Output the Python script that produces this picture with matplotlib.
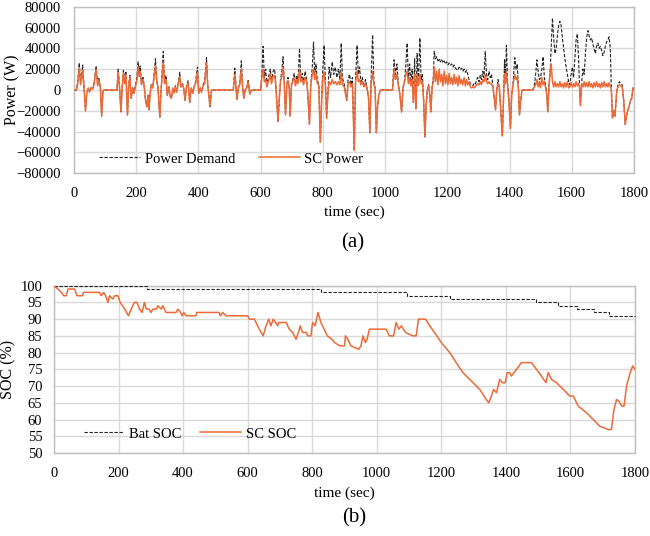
import numpy as np
import matplotlib
matplotlib.use('Agg')
import matplotlib.pyplot as plt

plt.rcParams['font.family'] = ['Liberation Serif', 'DejaVu Serif']

# ---- data (a): power, W ----
time_s = [0, 8, 12, 17, 21, 25, 28, 32, 37, 41, 46, 50, 55, 60, 65, 71, 76, 80, 85, 89, 93, 96,
          138, 142, 146, 151, 155, 159, 163, 167, 172, 176, 180, 184, 189, 193, 198, 203, 206, 210,
          213, 217, 222, 226, 230, 234, 238, 241, 245, 249, 253, 257, 262, 266, 270, 276, 280, 283,
          287, 291, 296, 300, 305, 309, 313, 318, 322, 326, 330, 335, 340, 344, 349, 353, 357, 362,
          367, 372, 377, 382, 386, 391, 397, 401, 406, 410, 415, 420, 426, 430, 434, 437, 442,
          512, 517, 521, 524, 528, 533, 538, 542, 546, 550, 555, 560, 565, 570,
          600, 604, 608, 612, 616, 620, 625, 631, 635, 640, 645, 649, 652, 656, 660, 664, 668, 672,
          676, 680, 684, 688, 692, 695, 699, 703, 708, 712, 716, 720, 725, 729, 734, 738, 743, 748,
          752, 757, 761, 766, 770, 774, 778, 782, 787, 792, 796, 800, 804, 808, 812, 816, 820, 825,
          830, 835, 840, 845, 850, 855, 859, 863, 869, 873, 877, 881, 886, 890, 895, 901, 905, 910,
          914, 918, 922, 927, 932, 937, 942, 947, 951, 955, 960, 964, 968, 972, 976, 980, 985,
          1024, 1029, 1033, 1038, 1043, 1048, 1053, 1058, 1063, 1067, 1071, 1075, 1079, 1083, 1087,
          1091, 1095, 1099, 1103, 1107, 1112, 1116, 1120, 1124, 1128, 1132, 1136, 1140, 1144, 1147,
          1151, 1155, 1158, 1162, 1166, 1170, 1174, 1178, 1182, 1186, 1190, 1194, 1198, 1202, 1206,
          1210, 1214, 1218, 1222, 1226, 1230, 1234, 1238, 1242, 1246, 1250, 1254, 1258, 1262, 1266,
          1270, 1274, 1278, 1282, 1286, 1290, 1294, 1298, 1302, 1306, 1310, 1314, 1318, 1322, 1326,
          1330, 1334, 1338, 1342, 1346, 1350, 1355, 1359, 1363, 1367, 1371, 1377, 1381, 1384, 1387,
          1390, 1394, 1398, 1403, 1407, 1411, 1417, 1421, 1425, 1429, 1432, 1436, 1440,
          1475, 1480, 1484, 1488, 1492, 1496, 1500, 1504, 1508, 1512, 1516, 1520, 1523, 1527, 1531,
          1534, 1538, 1542, 1546, 1550, 1554, 1558, 1562, 1566, 1570, 1574, 1578, 1582, 1586, 1590,
          1594, 1598, 1602, 1606, 1610, 1614, 1618, 1622, 1625, 1628, 1632, 1636, 1640, 1644, 1648,
          1652, 1656, 1660, 1664, 1668, 1672, 1676, 1680, 1684, 1688, 1692, 1696, 1700, 1704, 1708,
          1712, 1716, 1720, 1724, 1727, 1731, 1735, 1739, 1745, 1749, 1753, 1757, 1762, 1767, 1772,
          1776, 1780, 1785, 1789, 1793, 1797, 1800]

demand_w = [0, 0, 8000, 26000, 8000, 15000, 24000, 5000, -20000, -3000, 2000, -2000, 3000, 1000, 8000, 23000, 6000, 12000, 2000, -25000, -2000, 0,
            0, 20000, 5000, -21000, 3000, 19000, 8000, 18000, -24000, 5000, 14000, -8000, 2000, -3000, 5000, 14000, 27000, 18000,
            23000, 6000, 12000, 3000, -10000, -16000, -5000, -19000, -3000, 6000, 2000, 13000, 30000, 10000, 3000, -26000, 0, 15000,
            37000, 8000, 14000, -5000, 3000, -6000, -8000, 2000, -3000, 4000, -2000, 6000, 17000, 3000, 6000, 1000, -10000, 4000,
            9000, -12000, 2000, -3000, 3000, 8000, 22000, -3000, 2000, -2000, 5000, 8000, 31000, 5000, -6000, -16000, 0,
            0, 21000, 2000, -9000, 2000, 6000, 28000, 3000, -8000, 0, 2000, 10000, -4000, 0,
            0, 15000, 42000, 12000, 20000, 5000, 12000, 20000, 8000, 18000, 20000, 5000, -12000, -30000, -8000, 10000, 18000, 32000,
            8000, -24000, 5000, 12000, 2000, -25000, 5000, 10000, 16000, 5000, 14000, 8000, 40000, 10000, 16000, 6000, 18000, 10000,
            -5000, -33000, 5000, 22000, 46000, 15000, 25000, 10000, 5000, -50000, -10000, 20000, 43000, 10000, -27000, -5000, 22000, 12000,
            27000, 15000, 22000, 12000, 20000, 10000, 45000, 12000, 5000, -4000, -10000, 10000, 15000, 5000, 12000, -58000, 10000, 43000,
            15000, 22000, 8000, 12000, 3000, 10000, 2000, -8000, -41000, 10000, 53000, 8000, 2000, -41000, -15000, -5000, 0,
            0, 29000, 15000, 25000, 5000, -5000, -21000, 3000, 10000, 25000, 45000, 10000, 25000, 5000, 20000,
            -12000, 30000, -18000, 35000, 5000, 50000, 10000, 15000, -10000, -45000, -15000, 0, 5000, -5000, -21000,
            2000, 12000, 37000, 30000, 32000, 28000, 30000, 27000, 29000, 26000, 28000, 25000, 27000, 24000, 26000,
            24000, 25000, 22000, 24000, 21000, 20000, 19000, 22000, 20000, 21000, 18000, 20000, 17000, 19000, 15000,
            10000, 6000, 5000, 4000, 6000, 5000, 10000, 12000, 8000, 14000, 10000, 18000, 12000, 37000, 15000,
            10000, 18000, 12000, 15000, 5000, -5000, -19000, 0, 10000, 3000, -15000, -44000, -5000, 29000, 10000,
            43000, 5000, -10000, -37000, -5000, 5000, 31000, 20000, 25000, 0, -24000, -10000, 0,
            0, 5000, 15000, 29000, 18000, 10000, 12000, 20000, 32000, 12000, 5000, -5000, -21000, 5000, 20000,
            40000, 69000, 50000, 35000, 40000, 52000, 62000, 66000, 62000, 50000, 40000, 30000, 22000, 15000, 8000,
            5000, 15000, 22000, 12000, 30000, 48000, 54000, 30000, 5000, -15000, 8000, 20000, 15000, 35000, 50000,
            57000, 52000, 48000, 50000, 44000, 40000, 35000, 42000, 45000, 40000, 42000, 38000, 33000, 36000, 42000,
            46000, 48000, 51000, 40000, 5000, -27000, -20000, -25000, 0, 5000, 8000, 6000, 5000, -10000, -33000,
            -25000, -20000, -15000, -10000, -8000, 2000, 0]

sc_w = [0, 0, 6000, 21000, 5000, 12000, 19000, 3000, -20000, -3000, 2000, -2000, 2000, 1000, 6000, 20000, 4000, 10000, 2000, -25000, -2000, 0,
        0, 17000, 4000, -21000, 3000, 16000, 6000, 15000, -24000, 4000, 12000, -8000, 2000, -3000, 4000, 10000, 22000, 13000,
        18000, 5000, 10000, 3000, -10000, -16000, -5000, -19000, -3000, 5000, 2000, 11000, 23000, 8000, 3000, -26000, 0, 12000,
        27000, 6000, 10000, -5000, 3000, -6000, -8000, 2000, -3000, 3000, -2000, 5000, 13000, 3000, 5000, 1000, -10000, 3000,
        7000, -12000, 2000, -3000, 3000, 6000, 17000, -3000, 2000, -2000, 4000, 6000, 26000, 4000, -6000, -16000, 0,
        0, 15000, 2000, -9000, 2000, 5000, 20000, 3000, -8000, 0, 2000, 8000, -4000, 0,
        0, 12000, 20000, 8000, 10000, 3000, 8000, 15000, 6000, 13000, 14000, 4000, -12000, -30000, -8000, 8000, 13000, 22000,
        6000, -24000, 4000, 9000, 2000, -25000, 4000, 8000, 12000, 4000, 10000, 6000, 20000, 8000, 10000, 5000, 12000, 8000,
        -5000, -33000, 4000, 15000, 20000, 10000, 15000, 7000, 4000, -50000, -10000, 12000, 17000, 6000, -27000, -5000, 8000, 5000,
        10000, 6000, 8000, 5000, 8000, 5000, 17000, 5000, 3000, -4000, -10000, 6000, 8000, 3000, 6000, -58000, 6000, 19000,
        8000, 10000, 5000, 8000, 3000, 6000, 2000, -8000, -41000, 6000, 18000, 5000, 2000, -41000, -15000, -5000, 0,
        0, 20000, 10000, 15000, 4000, -5000, -21000, 3000, 8000, 15000, 18000, 6000, 12000, 4000, 10000,
        -12000, 15000, -18000, 15000, 4000, 15000, 6000, 8000, -10000, -45000, -15000, 0, 4000, -5000, -21000,
        2000, 8000, 22000, 8000, 18000, 5000, 20000, 8000, 15000, 4000, 18000, 6000, 14000, 5000, 16000,
        6000, 12000, 5000, 15000, 6000, 12000, 4000, 14000, 6000, 10000, 5000, 12000, 4000, 10000, 5000,
        8000, 3000, 2000, 3000, 2000, 3000, 5000, 6000, 5000, 8000, 5000, 10000, 8000, 15000, 8000,
        6000, 8000, 6000, 6000, 3000, -5000, -19000, 0, 6000, 3000, -15000, -44000, -5000, 15000, 6000,
        18000, 4000, -10000, -37000, -5000, 4000, 15000, 10000, 12000, 0, -24000, -10000, 0,
        0, 3000, 5000, 10000, 3000, 8000, 2000, 12000, 5000, 8000, 2000, -5000, -21000, 3000, 18000,
        25000, 8000, 3000, 8000, 3000, 6000, 3000, 8000, 3000, 6000, 2000, 7000, 3000, 8000, 2000,
        3000, 7000, 3000, 6000, 3000, 8000, 4000, 6000, 3000, -15000, 6000, 3000, 8000, 3000, 7000,
        3000, 8000, 3000, 6000, 2000, 7000, 3000, 8000, 3000, 6000, 2000, 7000, 3000, 8000, 3000,
        6000, 3000, 7000, 3000, 2000, -27000, -20000, -25000, 0, 3000, 5000, 4000, 3000, -10000, -33000,
        -25000, -20000, -15000, -10000, -8000, 2000, 0]

# ---- data (b): SOC, % ----
bat_t = [0, 288, 828, 1093, 1226, 1493, 1562, 1619, 1673, 1718, 1800]
bat_soc = [100, 99, 98, 97, 96, 95, 94, 93, 92, 91, 91]

sc_t = [0, 12, 23, 30, 38, 43, 64, 71, 88, 92, 141, 146, 154, 160, 167, 172, 182, 188, 198, 205,
        219, 231, 239, 249, 257, 265, 273, 280, 286, 294, 301, 306, 317, 322, 332, 337, 342, 347,
        378, 384, 392, 397, 402, 409, 440, 442, 512, 515, 523, 533, 600, 605, 621, 626, 636, 648,
        657, 665, 672, 679, 686, 693, 696, 719, 729, 739, 750, 757, 763, 770, 782, 786, 796, 801,
        809, 818, 827, 837, 847, 861, 869, 886, 900, 903, 910, 920, 944, 951, 957, 965, 970, 977,
        1029, 1039, 1052, 1060, 1068, 1076, 1089, 1112, 1122, 1129, 1138, 1151, 1164, 1179, 1200,
        1226, 1246, 1267, 1298, 1319, 1339, 1347, 1355, 1362, 1371, 1381, 1389, 1398, 1404, 1412,
        1417, 1433, 1448, 1479, 1495, 1510, 1524, 1531, 1541, 1557, 1578, 1598, 1609, 1624, 1650,
        1671, 1691, 1717, 1727, 1735, 1743, 1750, 1759, 1766, 1774, 1785, 1793, 1800]
sc_soc = [100, 99, 98, 97, 97, 99, 99, 97, 97, 98, 98, 97, 98, 97, 95, 97, 96, 97, 97, 95,
          93, 91, 93, 95, 95, 93, 92, 95, 93, 93, 92, 93, 93, 94, 93, 94, 93, 92,
          92, 93, 92, 91, 92, 91, 91, 92, 92, 91, 92, 91, 91, 90, 90, 89, 87, 85,
          88, 90, 88, 90, 89, 88, 89, 89, 87, 86, 84, 86, 88, 86, 86, 85, 85, 89,
          88, 92, 89, 87, 85, 84, 83, 82, 82, 85, 84, 82, 81, 82, 85, 83, 84, 87,
          87, 85, 85, 89, 87, 88, 86, 85, 85, 90, 90, 90, 88, 86, 83,
          80, 77, 74, 71, 69, 66, 65, 67, 69, 68, 72, 71, 71, 74, 74,
          73, 75, 77, 77, 75, 73, 71, 74, 72, 71, 69, 67, 67, 64, 62,
          60, 58, 57, 57, 63, 66, 65.5, 64, 64, 70, 74, 76, 75]

orange = '#EC6A37'
grid_c = '#D9D9D9'
spine_c = '#BFBFBF'

fig = plt.figure(figsize=(6.5, 5.36), dpi=100)
ax1 = fig.add_axes([0.1138, 0.6767, 0.8615, 0.3108])
ax2 = fig.add_axes([0.0831, 0.1549, 0.8938, 0.3121])


def style_axes(ax, ypad):
    ax.grid(True, color=grid_c, lw=1.0, zorder=0)
    ax.set_axisbelow(True)
    for s in ax.spines.values():
        s.set_color(spine_c)
        s.set_linewidth(1.0)
    ax.tick_params(axis='both', length=0, labelsize=10.5)
    ax.tick_params(axis='y', pad=ypad)
    ax.tick_params(axis='x', pad=10)
    ax.set_xlim(0, 1800)
    ax.set_xticks(np.arange(0, 1801, 200))


# (a)
ax1.plot(time_s, demand_w, color='#222222', lw=0.8, ls=(0, (3, 1.5)), label='Power Demand', zorder=2)
ax1.plot(time_s, sc_w, color=orange, lw=1.1, label='SC Power', zorder=3)
style_axes(ax1, 9.4)
ax1.set_ylim(-80000, 80000)
ax1.set_yticks(np.arange(-80000, 80001, 20000))
ax1.legend(loc='center left', bbox_to_anchor=(0.045, 0.086), ncol=2, frameon=False,
           fontsize=10.5, handlelength=2.8, handletextpad=0.34, columnspacing=1.6,
           borderpad=0, borderaxespad=0)
fig.text(354 / 650, 1 - 212 / 536, 'time (sec)', ha='center', va='center', fontsize=11)
fig.text(12 / 650, 1 - 90 / 536, 'Power (W)', ha='center', va='center', rotation=90, fontsize=11.5)
fig.text(353 / 650, 1 - 243 / 536, '(a)', ha='center', va='center', fontsize=15)

# (b)
ax2.plot(bat_t, bat_soc, color='#222222', lw=0.8, ls=(0, (3, 1.5)), drawstyle='steps-post',
         label='Bat SOC', zorder=2.7, clip_on=False)
ax2.plot(sc_t, sc_soc, color=orange, lw=1.1, label='SC SOC', zorder=3)
style_axes(ax2, 8.4)
ax2.set_ylim(50, 100)
ax2.set_yticks(np.arange(50, 101, 5))
ax2.legend(loc='center left', bbox_to_anchor=(0.051, 0.114), ncol=2, frameon=False,
           fontsize=10.5, handlelength=2.8, handletextpad=0.34, columnspacing=1.28,
           borderpad=0, borderaxespad=0)
fig.text(344 / 650, 1 - 493 / 536, 'time (sec)', ha='center', va='center', fontsize=11)
fig.text(8 / 650, 1 - 369 / 536, 'SOC (%)', ha='center', va='center', rotation=90, fontsize=11.5)
fig.text(354 / 650, 1 - 518 / 536, '(b)', ha='center', va='center', fontsize=15)

fig.savefig('out.png', dpi=100)
